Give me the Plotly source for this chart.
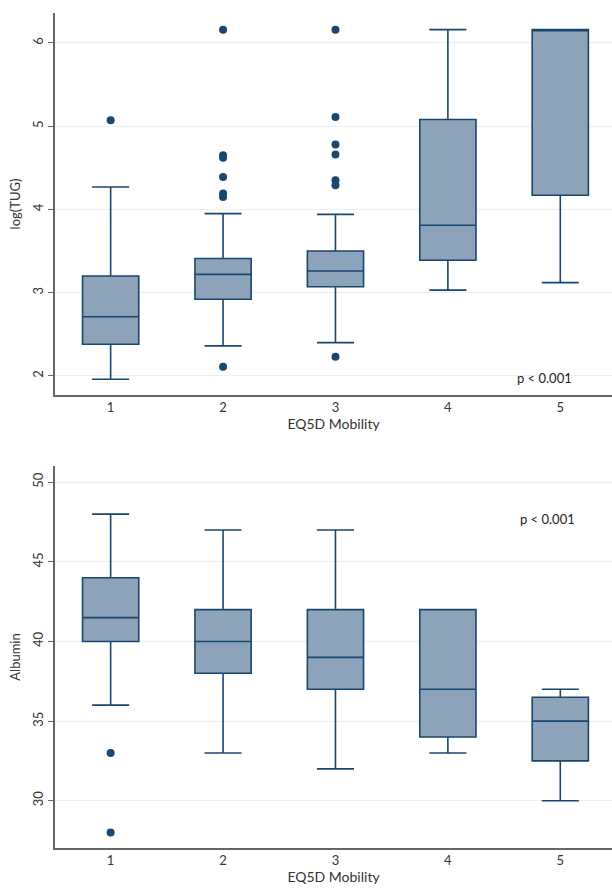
import plotly.graph_objects as go
from plotly.subplots import make_subplots

categories = [1, 2, 3, 4, 5]

# Top panel: log(TUG)
tug_q1 = [2.38, 2.92, 3.07, 3.39, 4.17]
tug_median = [2.71, 3.22, 3.26, 3.81, 6.15]
tug_q3 = [3.20, 3.41, 3.50, 5.08, 6.16]
tug_low = [1.96, 2.36, 2.40, 3.03, 3.12]
tug_high = [4.27, 3.95, 3.94, 6.16, 6.16]
tug_out_x = [1, 2, 2, 2, 2, 2, 2, 2, 3, 3, 3, 3, 3, 3, 3]
tug_out_y = [5.07, 6.16, 4.65, 4.62, 4.39, 4.19, 4.15, 2.11,
             6.16, 5.11, 4.78, 4.66, 4.35, 4.29, 2.23]

# Bottom panel: Albumin
alb_q1 = [40, 38, 37, 34, 32.5]
alb_median = [41.5, 40, 39, 37, 35]
alb_q3 = [44, 42, 42, 42, 36.5]
alb_low = [36, 33, 32, 33, 30]
alb_high = [48, 47, 47, 42, 37]
alb_out_x = [1, 1]
alb_out_y = [33, 28]

y_tick_top = [2, 3, 4, 5, 6]
y_tick_bot = [30, 35, 40, 45, 50]

LINE = "#1a476f"
FILL = "#8ca3ba"
FONT = "Lato, 'Open Sans', sans-serif"

fig = make_subplots(rows=2, cols=1, vertical_spacing=0.085)

for row, (q1, med, q3, lo, hi, ox, oy) in enumerate([
    (tug_q1, tug_median, tug_q3, tug_low, tug_high, tug_out_x, tug_out_y),
    (alb_q1, alb_median, alb_q3, alb_low, alb_high, alb_out_x, alb_out_y),
], start=1):
    fig.add_trace(go.Box(
        x=categories, q1=q1, median=med, q3=q3,
        lowerfence=lo, upperfence=hi,
        width=0.5, whiskerwidth=0.66,
        fillcolor=FILL, line=dict(color=LINE, width=1.6),
        boxpoints=False, showlegend=False, hoverinfo="skip",
    ), row=row, col=1)
    fig.add_trace(go.Scatter(
        x=ox, y=oy, mode="markers",
        marker=dict(color=LINE, size=8),
        showlegend=False, hoverinfo="skip",
    ), row=row, col=1)

for row in (1, 2):
    fig.update_xaxes(
        row=row, col=1, range=[0.505, 5.46], tickvals=categories,
        showline=True, linecolor="#666666", linewidth=1.5,
        showgrid=False, zeroline=False, ticks="",
        title=dict(text="EQ5D Mobility", standoff=4,
                   font=dict(size=14, color="#333333")),
        tickfont=dict(size=13, color="#333333"),
    )
fig.update_yaxes(row=1, col=1, range=[1.77, 6.36], tickvals=y_tick_top,
                 title=dict(text="log(TUG)", standoff=6))
fig.update_yaxes(row=2, col=1, range=[27.03, 51.02], tickvals=y_tick_bot,
                 title=dict(text="Albumin", standoff=6))
fig.update_yaxes(
    showline=True, linecolor="#666666", linewidth=1.5,
    showgrid=True, gridcolor="#e8f0f2", gridwidth=1, zeroline=False,
    ticks="outside", ticklen=5, tickcolor="#666666", tickangle=-90,
    tickfont=dict(size=13, color="#333333"),
    title_font=dict(size=13, color="#333333"),
)

fig.add_annotation(x=4.86, y=1.98, xref="x", yref="y", text="p < 0.001",
                   showarrow=False, font=dict(size=13, color="#222222"))
fig.add_annotation(x=4.89, y=47.7, xref="x2", yref="y2", text="p < 0.001",
                   showarrow=False, font=dict(size=13, color="#222222"))

fig.update_layout(
    width=612, height=894,
    margin=dict(l=55, r=0, t=13, b=46),
    paper_bgcolor="white", plot_bgcolor="white",
    font=dict(family=FONT, color="#333333"),
)
fig.update_yaxes(domain=[0.5425, 1.0], row=1, col=1)
fig.update_yaxes(domain=[0.0, 0.4575], row=2, col=1)

fig.write_html("out.html", config={"displayModeBar": False})

# remove the default page margin so the figure sits at the window origin
with open("out.html", encoding="utf-8") as f:
    html = f.read()
html = html.replace("<head>", "<head><style>html,body{margin:0;padding:0;overflow:hidden;}</style>", 1)
with open("out.html", "w", encoding="utf-8") as f:
    f.write(html)
